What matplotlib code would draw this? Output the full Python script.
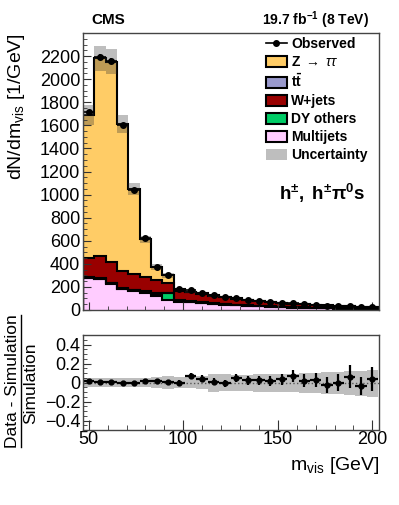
#!/usr/bin/env python3

import numpy as np
import matplotlib.pyplot as plt
from matplotlib.patches import Patch
from matplotlib.lines import Line2D
from matplotlib.ticker import MultipleLocator, FixedLocator, FuncFormatter

plt.rcParams['font.family'] = ['Liberation Sans', 'DejaVu Sans']
plt.rcParams['mathtext.fontset'] = 'custom'
plt.rcParams['mathtext.rm'] = 'Liberation Sans'
plt.rcParams['mathtext.it'] = 'Liberation Sans:italic'
plt.rcParams['mathtext.bf'] = 'Liberation Sans:bold'

# bin centres of m_vis [GeV], 6 GeV wide bins
mvis = [50, 56, 62, 68, 74, 80, 86, 92, 98, 104, 110, 116, 122, 128, 134,
        140, 146, 152, 158, 164, 170, 176, 182, 188, 194, 200]
bin_width = 6

# expected yields per bin [1/GeV]
multijets = [275, 265, 228, 180, 165, 150, 122, 90, 72, 65, 58, 52, 46, 40,
             35, 31, 27, 24, 21, 18, 16, 14, 12, 11, 10, 9]
dy_others = [5, 5, 5, 6, 6, 8, 18, 55, 6, 4, 3, 3, 2, 2, 2, 2, 1, 1, 1, 1,
             1, 1, 1, 1, 1, 1]
ttbar = [3, 4, 4, 5, 5, 5, 5, 5, 5, 5, 5, 5, 5, 4, 4, 4, 4, 3, 3, 3, 3, 3,
         2, 2, 2, 2]
wjets = [171, 192, 178, 146, 135, 123, 113, 87, 82, 78, 73, 63, 58, 51, 44,
         39, 34, 32, 28, 26, 22, 20, 19, 17, 15, 14]
ztautau = [1236, 1714, 1735, 1273, 734, 326, 114, 63, 18, 8, 6, 5, 4, 3, 3,
           2, 2, 2, 2, 1, 1, 1, 1, 1, 1, 1]

# observed data and its relative error
observed = [1715, 2192, 2161, 1599, 1038, 624, 376, 302, 182, 171, 151, 129,
            114, 105, 90, 80, 69, 64, 59, 50, 44, 38, 35, 34, 28, 28]
obs_relerr = [0.01, 0.01, 0.01, 0.01, 0.012, 0.015, 0.02, 0.022, 0.028, 0.03,
              0.032, 0.035, 0.037, 0.04, 0.043, 0.046, 0.05, 0.053, 0.058,
              0.065, 0.07, 0.09, 0.09, 0.11, 0.1, 0.12]

# relative uncertainty of the simulation (up / down)
unc_up = [0.05, 0.05, 0.05, 0.05, 0.05, 0.05, 0.06, 0.065, 0.06, 0.07, 0.07,
          0.09, 0.09, 0.08, 0.08, 0.085, 0.085, 0.09, 0.09, 0.1, 0.1, 0.11,
          0.11, 0.12, 0.12, 0.13]
unc_down = [0.05, 0.05, 0.05, 0.05, 0.05, 0.05, 0.06, 0.065, 0.06, 0.06, 0.07,
            0.1, 0.09, 0.09, 0.09, 0.095, 0.095, 0.1, 0.1, 0.11, 0.115, 0.12,
            0.125, 0.13, 0.14, 0.15]

# stacking order (bottom -> top) and legend order
stack_order = ['Multijets', 'DY others', 'ttbar', 'W+jets', 'Ztautau']
legend_order = ['Ztautau', 'ttbar', 'W+jets', 'DY others', 'Multijets']
legend_text = {'Ztautau': r'Z $\rightarrow$ $\tau\tau$',
               'ttbar': r'$\mathbf{t\bar{t}}$', 'W+jets': 'W+jets',
               'DY others': 'DY others', 'Multijets': 'Multijets'}
colors = {'Multijets': '#ffccff', 'DY others': '#00cc66', 'ttbar': '#9999cc',
          'W+jets': '#990000', 'Ztautau': '#ffcc66'}

W, H = 399, 505


def box(left, top, right, bottom):
    """ axes rectangle from pixel edges """
    return [left / W, 1 - bottom / H, (right - left) / W, (bottom - top) / H]


def style_axis(ax):
    for sp in ax.spines.values():
        sp.set_color('#444444')
        sp.set_linewidth(1)
    ax.tick_params(which='both', direction='in', labelsize=13, pad=2,
                   top=False, right=False, color='#333333')
    ax.tick_params(which='major', length=5.5)
    ax.tick_params(which='minor', length=3)


def main():
    fig = plt.figure(figsize=(W / 100, H / 100), dpi=100)
    ax = fig.add_axes(box(83, 33, 379, 310))
    rax = fig.add_axes(box(83, 335, 379, 430))

    centers = np.array(mvis, dtype=float)
    edges = np.append(centers - bin_width / 2, centers[-1] + bin_width / 2)
    yields = {'Multijets': multijets, 'DY others': dy_others, 'ttbar': ttbar,
              'W+jets': wjets, 'Ztautau': ztautau}

    # stacked backgrounds
    bottom = np.zeros(len(centers))
    tops = []
    for name in stack_order:
        top = bottom + np.array(yields[name])
        ax.stairs(top, edges, baseline=bottom, fill=True, color=colors[name],
                  lw=0)
        tops.append(top)
        bottom = top
    for top in tops:
        ax.stairs(top, edges, baseline=0, color='k', lw=1.5)
    stack = bottom

    band_col = '#303030'
    ax.stairs(stack * (1 + np.array(unc_up)), edges,
              baseline=stack * (1 - np.array(unc_down)),
              fill=True, color=band_col, alpha=0.31, lw=0)

    obs = np.array(observed, dtype=float)
    err = obs * np.array(obs_relerr)
    ax.errorbar(centers, obs, xerr=bin_width / 2, yerr=err, fmt='o',
                color='k', ms=4, elinewidth=1.2, capsize=0)

    ax.set_xlim(edges[0], 203.5)
    ax.set_ylim(0, 2400)
    ax.yaxis.set_major_locator(FixedLocator(np.arange(0, 2201, 200)))
    ax.yaxis.set_minor_locator(MultipleLocator(50))
    ax.xaxis.set_major_locator(MultipleLocator(50))
    ax.xaxis.set_minor_locator(MultipleLocator(10))
    style_axis(ax)
    ax.tick_params(labelbottom=False)

    # legend
    handles = [Line2D([], [], color='k', marker='o', ms=4, lw=1.2)]
    names = ['Observed']
    for name in legend_order:
        handles.append(Patch(facecolor=colors[name], edgecolor='k', lw=1.5))
        names.append(legend_text[name])
    handles.append(Patch(facecolor='#bebebe', edgecolor='none'))
    names.append('Uncertainty')
    ax.legend(handles, names, loc='upper left',
              bbox_to_anchor=(266 / W, 1 - 37 / H),
              bbox_transform=fig.transFigure, frameon=False,
              prop={'size': 10, 'weight': 'bold'}, borderpad=0,
              handlelength=1.5, handleheight=0.85, handletextpad=0.3,
              labelspacing=0.29, borderaxespad=0)

    fig.text(322 / W, 1 - 193 / H, r'$\mathbf{h^{\pm},\ h^{\pm}\pi^{0}s}$',
             ha='center', va='center', fontsize=13.5)
    fig.text(91 / W, 1 - 20 / H, 'CMS', fontsize=11, fontweight='bold',
             ha='left', va='center')
    fig.text(369 / W, 1 - 20 / H, r'$\mathbf{19.7\ fb^{-1}\ (8\ TeV)}$',
             fontsize=10, ha='right', va='center')
    fig.text(17 / W, 1 - 33 / H, r'dN/dm$_{\mathrm{vis}}$ [1/GeV]',
             rotation=90, ha='center', va='top', fontsize=14)

    # ratio panel
    ratio = obs / stack - 1
    rerr = err / stack
    rax.stairs(np.array(unc_up), edges, baseline=-np.array(unc_down),
               fill=True, color=band_col, alpha=0.31, lw=0)
    rax.axhline(0, color='#555555', ls=':', lw=1)
    rax.errorbar(centers, ratio, xerr=bin_width / 2, yerr=rerr, fmt='o',
                 color='k', ms=3.5, elinewidth=1.6, capsize=0)
    rax.set_xlim(edges[0], 203.5)
    rax.set_ylim(-0.5, 0.5)
    rax.yaxis.set_major_locator(MultipleLocator(0.2))
    rax.yaxis.set_minor_locator(MultipleLocator(0.05))
    rax.xaxis.set_major_locator(MultipleLocator(50))
    rax.xaxis.set_minor_locator(MultipleLocator(10))
    rax.yaxis.set_major_formatter(
        FuncFormatter(lambda v, p: ('%g' % round(v, 2)).replace('-', '\u2212')))
    style_axis(rax)
    rax.tick_params(axis='x', which='major', length=7, pad=1)
    rax.tick_params(axis='x', which='minor', length=3.5)

    fig.text(13 / W, 1 - 381 / H, 'Data - Simulation', rotation=90,
             ha='center', va='center', fontsize=12.5)
    fig.add_artist(Line2D([21 / W, 21 / W], [1 - 447 / H, 1 - 315 / H],
                          color='k', lw=1, transform=fig.transFigure))
    fig.text(31 / W, 1 - 383 / H, 'Simulation', rotation=90,
             ha='center', va='center', fontsize=12.5)
    fig.text(379 / W, 1 - 466 / H, r'm$_{\mathrm{vis}}$ [GeV]',
             ha='right', va='center', fontsize=14)

    fig.savefig('out.png', dpi=100)


if __name__ == "__main__":
    main()
